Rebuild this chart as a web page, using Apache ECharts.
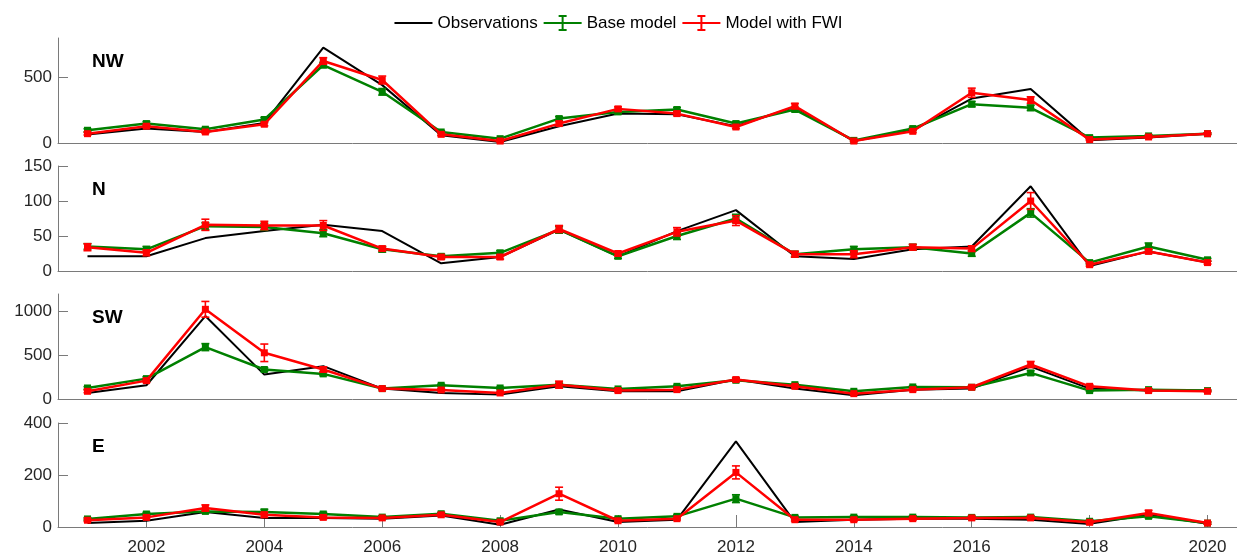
<!DOCTYPE html>
<html><head><meta charset="utf-8">
<script src="https://cdn.jsdelivr.net/npm/echarts@6/dist/echarts.min.js"></script>
<style>html,body{margin:0;padding:0;background:#fff}#c{width:1237px;height:556px}</style>
</head><body><div id="c"></div>
<script>
const years = [2001,2002,2003,2004,2005,2006,2007,2008,2009,2010,2011,2012,2013,2014,2015,2016,2017,2018,2019,2020];
const xTickYears = [2002,2004,2006,2008,2010,2012,2014,2016,2018,2020];

const NW_obs      = [65,110,84,153,727,441,59,8,128,224,219,128,275,15,97,339,411,20,41,71];
const NW_base     = [97,148,105,179,594,390,84,33,186,237,255,148,255,20,110,296,268,41,54,71];
const NW_base_err = [12,15,12,15,20,25,10,8,15,15,15,15,15,5,10,20,20,8,8,6];
const NW_fwi      = [71,128,84,143,625,480,66,15,148,260,224,122,281,15,89,383,327,26,46,71];
const NW_fwi_err  = [10,12,10,12,25,30,10,6,15,15,15,12,20,5,10,35,25,6,8,6];
const NW_ticks    = [0,500];

const N_obs      = [21,21,47,57,66,57,11,20,59,21,57,87,21,17,31,35,121,7,28,12];
const N_base     = [35,31,64,63,54,31,21,26,59,21,50,75,24,31,34,25,83,12,35,16];
const N_base_err = [4,4,5,5,5,4,3,3,5,3,5,6,4,4,4,4,6,2,5,2];
const N_fwi      = [34,26,66,65,65,32,20,20,60,25,56,72,24,24,34,32,100,9,28,12];
const N_fwi_err  = [5,4,8,6,7,3,3,3,5,3,6,7,4,5,4,4,12,2,3,2];
const N_ticks    = [0,50,100,150];

const SW_obs      = [69,157,948,279,375,119,69,50,145,88,88,222,119,42,107,119,370,119,96,96];
const SW_base     = [126,233,593,337,287,119,157,126,164,115,145,214,164,88,138,134,298,96,107,96];
const SW_base_err = [15,20,40,20,20,10,12,10,15,10,12,15,12,10,12,12,25,10,10,8];
const SW_fwi      = [88,210,1025,528,337,119,103,69,164,96,107,222,145,61,107,134,394,145,96,88];
const SW_fwi_err  = [15,20,90,100,30,12,12,10,40,12,12,20,15,10,12,15,35,15,10,8];
const SW_ticks    = [0,500,1000];

const E_obs      = [15,24,58,35,35,32,44,9,67,19,28,329,19,28,32,32,28,12,47,12];
const E_base     = [31,50,60,58,50,38,51,24,58,32,41,109,37,38,38,37,38,22,41,15];
const E_base_err = [5,6,6,10,6,5,5,5,8,5,5,15,5,5,5,5,5,4,6,4];
const E_fwi      = [26,37,73,47,37,35,47,19,128,24,32,210,28,28,32,35,35,18,54,15];
const E_fwi_err  = [5,6,12,10,6,5,6,4,25,5,5,25,5,5,5,5,5,4,10,4];
const E_ticks    = [0,200,400];

const panelNames = ['NW','N','SW','E'];
const panelMax = [800,150,1200,400];

const panels = [
  {obs:NW_obs, base:NW_base, baseErr:NW_base_err, fwi:NW_fwi, fwiErr:NW_fwi_err, ticks:NW_ticks},
  {obs:N_obs, base:N_base, baseErr:N_base_err, fwi:N_fwi, fwiErr:N_fwi_err, ticks:N_ticks},
  {obs:SW_obs, base:SW_base, baseErr:SW_base_err, fwi:SW_fwi, fwiErr:SW_fwi_err, ticks:SW_ticks},
  {obs:E_obs, base:E_base, baseErr:E_base_err, fwi:E_fwi, fwiErr:E_fwi_err, ticks:E_ticks}
];

const FONT = '"Liberation Sans", Arial, Helvetica, sans-serif';
const GREEN = '#008000', RED = '#ff0000', BLACK = '#000000';
const AXIS = '#7a7a7a', LABEL = '#262626';
const gridTops = [38,166,294,423];
const gridHeights = [105,105,105,104];

function errRender(color){
  return function(params, api){
    const x = api.value(0), lo = api.value(1), hi = api.value(2);
    const pL = api.coord([x, lo]), pH = api.coord([x, hi]);
    const cw = 4;
    const st = {stroke: color, lineWidth: 1.6, fill: null};
    return {type:'group', children:[
      {type:'line', shape:{x1:pL[0],y1:pL[1],x2:pH[0],y2:pH[1]}, style:st},
      {type:'line', shape:{x1:pL[0]-cw,y1:pL[1],x2:pL[0]+cw,y2:pL[1]}, style:st},
      {type:'line', shape:{x1:pH[0]-cw,y1:pH[1],x2:pH[0]+cw,y2:pH[1]}, style:st}
    ]};
  };
}
const plain = v => String(v);

const grids = [], xAxes = [], yAxes = [], series = [], titles = [];
panels.forEach((p, i) => {
  const last = i === panels.length - 1;
  grids.push({left:58, width:1182, top:gridTops[i], height:gridHeights[i]});
  xAxes.push({
    type:'value', gridIndex:i, min:2000.5, max:2020.5,
    axisLine:{show:true, onZero:false, lineStyle:{color:AXIS, width:1}},
    axisTick:{show:last, inside:true, length:12, customValues:xTickYears, lineStyle:{color:AXIS}},
    axisLabel:{show:last, customValues:xTickYears, formatter:plain, margin:12, color:LABEL, fontSize:17, fontFamily:FONT},
    splitLine:{show:false}
  });
  yAxes.push({
    type:'value', gridIndex:i, min:0, max:panelMax[i],
    axisLine:{show:true, onZero:false, lineStyle:{color:AXIS, width:1}},
    axisTick:{show:true, inside:true, length:10, customValues:p.ticks, lineStyle:{color:AXIS}},
    axisLabel:{customValues:p.ticks, formatter:plain, margin:6, color:LABEL, fontSize:17, fontFamily:FONT},
    splitLine:{show:false}
  });
  titles.push({text:panelNames[i], left:87, top:gridTops[i]+9,
    textStyle:{fontSize:19, fontWeight:'bold', color:'#000', fontFamily:FONT}});
  series.push({
    name:'Observations', type:'line', xAxisIndex:i, yAxisIndex:i,
    data: years.map((y,k)=>[y, p.obs[k]]), showSymbol:false, symbol:'none',
    lineStyle:{color:BLACK, width:2}, itemStyle:{color:BLACK}, z:2, animation:false
  });
  [[p.base, p.baseErr, GREEN, 'Base model', 3], [p.fwi, p.fwiErr, RED, 'Model with FWI', 5]].forEach(([v, e, col, nm, z]) => {
    series.push({
      name:nm, type:'custom', xAxisIndex:i, yAxisIndex:i,
      data: years.map((y,k)=>[y, v[k]-e[k], v[k]+e[k]]),
      encode:{x:0, y:[1,2]}, renderItem: errRender(col), itemStyle:{color:col},
      z:z, animation:false, clip:false
    });
    series.push({
      name:nm, type:'line', xAxisIndex:i, yAxisIndex:i,
      data: years.map((y,k)=>[y, v[k]]), symbol:'rect', symbolSize:7,
      lineStyle:{color:col, width:2.5}, itemStyle:{color:col}, z:z+1, animation:false
    });
  });
});

const corners = 'M0,0 L0.01,0 L0.01,0.01 Z M38,18 L37.99,18 L37.99,17.99 Z ';
const iconLine = 'path://' + corners + 'M0,8 L38,8 L38,10 L0,10 Z';
const iconErr = 'path://' + corners + 'M0,8 L38,8 L38,10 L0,10 Z M18,1 L20,1 L20,17 L18,17 Z M15,1 L23,1 L23,3 L15,3 Z M15,15 L23,15 L23,17 L15,17 Z';

const chart = echarts.init(document.getElementById('c'), null, {renderer:'canvas'});
chart.setOption({
  animation:false,
  backgroundColor:'#fff',
  title: titles,
  legend:{
    top:9, left:'center', itemWidth:38, itemHeight:18, itemGap:6,
    textStyle:{fontSize:17, color:'#000', fontFamily:FONT},
    data:[
      {name:'Observations', icon:iconLine, itemStyle:{color:BLACK}},
      {name:'Base model', icon:iconErr, itemStyle:{color:GREEN}},
      {name:'Model with FWI', icon:iconErr, itemStyle:{color:RED}}
    ]
  },
  grid: grids, xAxis: xAxes, yAxis: yAxes, series: series
});
</script></body></html>
